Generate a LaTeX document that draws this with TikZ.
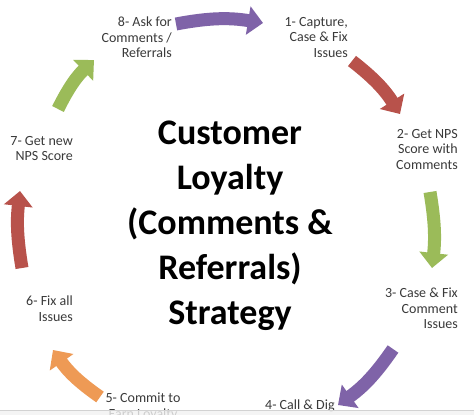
\documentclass[tikz,border=0pt]{standalone}
\usepackage{fontspec}
\setmainfont{Carlito}
\usetikzlibrary{arrows.meta}
\definecolor{cpurple}{HTML}{7F63A8}
\definecolor{cred}{HTML}{B8524B}
\definecolor{cgreen}{HTML}{9BBB59}
\definecolor{corange}{HTML}{EE9A55}
\definecolor{labtext}{HTML}{3A3A3A}
\tikzset{
  lab/.style={font=\fontsize{14}{15.5}\selectfont, align=right, inner sep=0pt, text=labtext},
  blk/.style={line width=13pt, line cap=butt, -{Triangle[width=28pt,length=15pt]}},
  ttl/.style={font=\fontsize{36}{45}\selectfont\bfseries, align=center, inner sep=0pt, text=black}
}
\begin{document}
\begin{tikzpicture}[x=1pt,y=-1pt]
\useasboundingbox (0,0) rectangle (474,415);
\clip (0,0) rectangle (474,415);
\fill[white] (0,0) rectangle (474,415);

% title
\node[ttl] (title) at (230,226) {Customer\\Loyalty\\(Comments \&\\Referrals)\\Strategy};

% labels
\node[lab, anchor=north east] (l8) at (172,17) {8- Ask for\\Comments /\\Referrals};
\node[lab, anchor=north east] (l1) at (348,17) {1- Capture,\\Case \& Fix\\Issues};
\node[lab, anchor=north east] (l2) at (458,129) {2- Get NPS\\Score with\\Comments};
\node[lab, anchor=north east] (l3) at (458,288) {3- Case \& Fix\\Comment\\Issues};
\node[lab, anchor=north west] (l4) at (265,400) {4- Call \& Dig};
\node[lab, anchor=north, align=center] (l5) at (143,393) {5- Commit to\\Earn Loyalty};
\node[lab, anchor=north east] (l6) at (73,296) {6- Fix all\\Issues};
\node[lab, anchor=north east] (l7) at (73,136) {7- Get new\\NPS Score};

% arrow end points
\coordinate (p8s) at (176,24);  \coordinate (p8e) at (263,23);
\coordinate (p1s) at (352,61);  \coordinate (p1e) at (400,114);
\coordinate (p2s) at (430,192); \coordinate (p2e) at (432,268);
\coordinate (p3s) at (393,349); \coordinate (p3e) at (338,405);
\coordinate (p5s) at (100,397); \coordinate (p5e) at (53,350);
\coordinate (p6s) at (22,268);  \coordinate (p6e) at (20,191);
\coordinate (p7s) at (58,109);  \coordinate (p7e) at (94,60);

\draw[blk, cpurple] (p8s) to[bend left=10] (p8e);
\draw[blk, cred]    (p1s) to[bend left=10] (p1e);
\draw[blk, cgreen]  (p2s) to[bend left=8]  (p2e);
\draw[blk, cpurple] (p3s) to[bend left=10] (p3e);
\draw[blk, corange] (p5s) to[bend left=10] (p5e);
\draw[blk, cred]    (p6s) to[bend left=8]  (p6e);
\draw[blk, cgreen]  (p7s) to[bend left=10] (p7e);

% bottom band
\fill[gray!10, opacity=0.8] (0,410.5) rectangle (474,415);
\draw[gray!35, line width=0.6pt] (0,410.5) -- (474,410.5);
\end{tikzpicture}
\end{document}
